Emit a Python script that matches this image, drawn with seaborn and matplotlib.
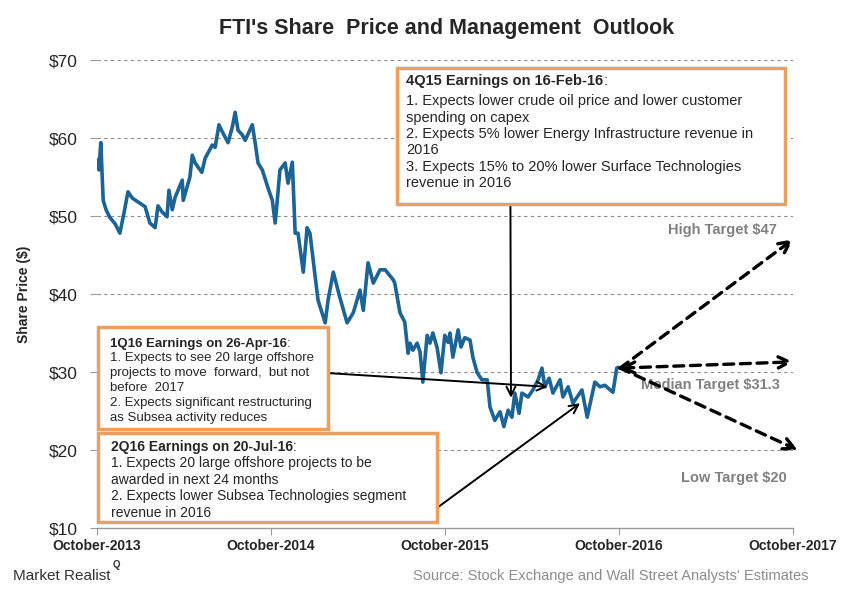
import pandas as pd
import matplotlib
matplotlib.use("Agg")
import matplotlib.pyplot as plt
from matplotlib.patches import Rectangle
import seaborn as sns

# FTI closing prices
dates = [
    "2013-10-01", "2013-10-05", "2013-10-09", "2013-10-14", "2013-10-20", "2013-10-28",
    "2013-11-08", "2013-11-18", "2013-11-27", "2013-12-05", "2013-12-14", "2013-12-26",
    "2014-01-10", "2014-01-20", "2014-01-31", "2014-02-06", "2014-02-15", "2014-02-25",
    "2014-03-01", "2014-03-08", "2014-03-14", "2014-03-29", "2014-03-31", "2014-04-14",
    "2014-04-19", "2014-04-25", "2014-05-09", "2014-05-16", "2014-05-31", "2014-06-06",
    "2014-06-14", "2014-06-21", "2014-07-03", "2014-07-12", "2014-07-18", "2014-07-24",
    "2014-08-02", "2014-08-08", "2014-08-23", "2014-08-29", "2014-09-04", "2014-09-13",
    "2014-09-25", "2014-10-04", "2014-10-10", "2014-10-14", "2014-10-20", "2014-10-31",
    "2014-11-06", "2014-11-15", "2014-11-21", "2014-11-27", "2014-12-08", "2014-12-16",
    "2014-12-22", "2015-01-02", "2015-01-08", "2015-01-23", "2015-01-29", "2015-02-09",
    "2015-02-23", "2015-03-10", "2015-03-23", "2015-04-06", "2015-04-13", "2015-04-23",
    "2015-05-04", "2015-05-18", "2015-05-29", "2015-06-15", "2015-06-18", "2015-06-29",
    "2015-07-09", "2015-07-16", "2015-07-20", "2015-07-26", "2015-08-04", "2015-08-10",
    "2015-08-16", "2015-08-25", "2015-08-31", "2015-09-06", "2015-09-15", "2015-09-23",
    "2015-10-01", "2015-10-08", "2015-10-12", "2015-10-18", "2015-10-29", "2015-11-04",
    "2015-11-12", "2015-11-23", "2015-11-29", "2015-12-08", "2015-12-18", "2015-12-29",
    "2016-01-04", "2016-01-14", "2016-01-25", "2016-02-02", "2016-02-11", "2016-02-19",
    "2016-02-25", "2016-03-05", "2016-03-11", "2016-03-24", "2016-04-03", "2016-04-14",
    "2016-04-22", "2016-04-28", "2016-05-07", "2016-05-15", "2016-05-30", "2016-06-05",
    "2016-06-16", "2016-06-26", "2016-07-15", "2016-07-26", "2016-08-11", "2016-08-22",
    "2016-09-01", "2016-09-18", "2016-09-26", "2016-09-29",
]
prices = [
    57.2, 55.9, 59.4, 52.0, 50.8, 49.8,
    49.0, 47.8, 50.5, 53.1, 52.3, 51.8,
    51.2, 49.1, 48.5, 51.3, 50.5, 49.9,
    53.3, 50.8, 52.4, 54.6, 52.0, 55.0,
    57.8, 56.8, 55.6, 57.4, 59.1, 58.8,
    61.7, 60.8, 59.4, 61.4, 63.3, 61.0,
    60.4, 59.7, 61.7, 59.4, 56.8, 55.9,
    53.6, 52.0, 49.1, 51.7, 55.9, 56.8,
    54.2, 56.9, 47.8, 47.8, 42.8, 48.5,
    47.8, 42.2, 39.2, 36.3, 39.2, 42.8,
    39.5, 36.3, 37.6, 40.5, 37.9, 44.0,
    41.4, 43.1, 43.1, 41.8, 41.4, 37.6,
    36.4, 32.4, 33.7, 32.8, 33.7, 32.6,
    28.7, 34.7, 33.7, 35.0, 33.1, 29.9,
    34.7, 33.8, 35.0, 31.9, 35.4, 33.2,
    34.4, 34.1, 31.9, 29.9, 29.0, 29.0,
    25.5, 23.8, 24.9, 23.0, 25.1, 24.2,
    27.3, 24.7, 27.3, 26.8, 27.7, 29.0,
    30.5, 28.1, 29.2, 27.3, 29.0, 26.8,
    28.1, 26.0, 27.7, 24.2, 28.7, 28.1,
    28.3, 27.4, 30.5, 30.6,
]

tick_dates = ["2013-10-01", "2014-10-01", "2015-10-01", "2016-10-01", "2017-10-01"]
tick_labels = ["October-2013", "October-2014", "October-2015", "October-2016", "October-2017"]
y_ticks = [10, 20, 30, 40, 50, 60, 70]

# analyst targets
target_start = ("2016-10-03", 30.5)
high_target = 47
median_target = 31.3
low_target = 20

box_4q15 = ["1. Expects lower crude oil price and lower customer",
            "spending on capex",
            "2. Expects 5% lower Energy Infrastructure revenue in",
            "2016",
            "3. Expects 15% to 20% lower Surface Technologies",
            "revenue in 2016"]
box_1q16 = ["1. Expects to see 20 large offshore",
            "projects to move  forward,  but not",
            "before  2017",
            "2. Expects significant restructuring",
            "as Subsea activity reduces"]
box_2q16 = ["1. Expects 20 large offshore projects to be",
            "awarded in next 24 months",
            "2. Expects lower Subsea Technologies segment",
            "revenue in 2016"]

df = pd.DataFrame({"Date": pd.to_datetime(dates), "Price": prices})

sns.set_style("white")
plt.rcParams["font.family"] = ["Liberation Sans", "DejaVu Sans"]

LINE_BLUE = "#1C6396"
ORANGE = "#EE9F5E"
GRAY_TXT = "#808080"

fig = plt.figure(figsize=(8.47, 6.0), dpi=100)
ax = fig.add_axes([97 / 847, 1 - 528 / 600, 696 / 847, 468 / 600])

sns.lineplot(data=df, x="Date", y="Price", ax=ax, color=LINE_BLUE, linewidth=2.6, zorder=3)

ax.set_xlim(pd.Timestamp("2013-10-01"), pd.Timestamp("2017-10-01"))
ax.set_ylim(10, 70)
ax.set_xticks(pd.to_datetime(tick_dates))
ax.set_xticklabels(tick_labels, fontweight="bold", fontsize=10)
ax.set_yticks(y_ticks)
ax.set_yticklabels([f"${v}" for v in y_ticks], fontsize=12.5)
ax.tick_params(axis="x", length=5, color="#999999", direction="out", pad=3, bottom=True)
ax.tick_params(axis="y", length=5, color="#999999", direction="out", pad=9, left=True)
ax.set_xlabel("")
ax.set_ylabel("Share Price ($)", fontsize=10, fontweight="bold")
ax.yaxis.set_label_coords(-0.095, 0.5)

for v in y_ticks[1:]:
    ax.axhline(v, color="#8c8c8c", linestyle=(0, (3, 3)), linewidth=0.8, zorder=1)
for s in ["top", "right", "left"]:
    ax.spines[s].set_visible(False)
ax.spines["bottom"].set_color("#999999")
ax.spines["bottom"].set_linewidth(1.0)

fig.text(0.527, 0.953, "FTI's Share  Price and Management  Outlook", ha="center", va="center",
         fontsize=15.5, fontweight="bold")


def note_box(x0, y0, x1, y1, hx, hy, header, by, lines, size, spacing):
    ax.add_patch(Rectangle((x0, y0), x1 - x0, y1 - y0, transform=ax.transAxes, clip_on=False,
                           facecolor="white", edgecolor=ORANGE, linewidth=2.5, zorder=6))
    h = ax.text(hx, hy, header, transform=ax.transAxes, ha="left", va="top",
                fontsize=size, fontweight="bold", zorder=7)
    ax.annotate(":", xy=(1, 0), xycoords=h, ha="left", va="bottom", fontsize=size, zorder=7)
    ax.text(hx, by, "\n".join(lines), transform=ax.transAxes, ha="left", va="top",
            fontsize=size, linespacing=spacing, zorder=7)


note_box(0.431, 0.692, 0.9885, 0.983, 0.444, 0.970, "4Q15 Earnings on 16-Feb-16", 0.927, box_4q15, 10.5, 1.22)
note_box(0.002, 0.2115, 0.332, 0.4295, 0.018, 0.407, "1Q16 Earnings on 26-Apr-16", 0.376, box_1q16, 9.5, 1.32)
note_box(0.002, 0.013, 0.4885, 0.202, 0.020, 0.189, "2Q16 Earnings on 20-Jul-16", 0.154, box_2q16, 10, 1.24)

solid = dict(arrowstyle="->", color="black", lw=1.4, mutation_scale=16, shrinkA=0, shrinkB=0)
ax.annotate("", xy=(pd.Timestamp("2016-02-17"), 26.7), xytext=(0.594, 0.692),
            textcoords="axes fraction", arrowprops=solid, zorder=5)
ax.annotate("", xy=(pd.Timestamp("2016-05-04"), 28.1), xytext=(0.332, 0.331),
            textcoords="axes fraction", arrowprops=solid, zorder=5)
ax.annotate("", xy=(pd.Timestamp("2016-07-11"), 26.0), xytext=(0.4885, 0.043),
            textcoords="axes fraction", arrowprops=solid, zorder=5)

t0 = (pd.Timestamp(target_start[0]), target_start[1])
dashed = dict(arrowstyle="->", color="black", lw=2.4, linestyle=(0, (3, 2)),
              mutation_scale=20, shrinkA=0, shrinkB=0)
ax.annotate("", xy=(pd.Timestamp("2017-10-01"), high_target), xytext=t0,
            arrowprops=dashed, annotation_clip=False, zorder=5)
ax.annotate("", xy=(pd.Timestamp("2017-10-01"), median_target), xytext=t0,
            arrowprops=dict(dashed, arrowstyle="<->"), annotation_clip=False, zorder=5)
ax.annotate("", xy=(pd.Timestamp("2017-10-11"), low_target), xytext=t0,
            arrowprops=dashed, annotation_clip=False, zorder=5)

ax.text(0.977, 0.637, f"High Target ${high_target}", transform=ax.transAxes, ha="right",
        va="center", fontsize=10.5, fontweight="bold", color=GRAY_TXT)
ax.text(0.981, 0.306, f"Median Target ${median_target}", transform=ax.transAxes, ha="right",
        va="center", fontsize=10.5, fontweight="bold", color=GRAY_TXT, zorder=4)
ax.text(0.991, 0.107, f"Low Target ${low_target}", transform=ax.transAxes, ha="right",
        va="center", fontsize=10.5, fontweight="bold", color=GRAY_TXT)

fig.text(0.015, 0.04, "Market Realist", ha="left", va="center", fontsize=11,
         color="#333333")
fig.text(0.133, 0.058, "Q", ha="left", va="center", fontsize=7, fontweight="bold",
         color="#333333")
fig.text(0.954, 0.04, "Source: Stock Exchange and Wall Street Analysts' Estimates", ha="right",
         va="center", fontsize=10.5, color="#8c8c8c")

fig.savefig("out.png", dpi=100)
